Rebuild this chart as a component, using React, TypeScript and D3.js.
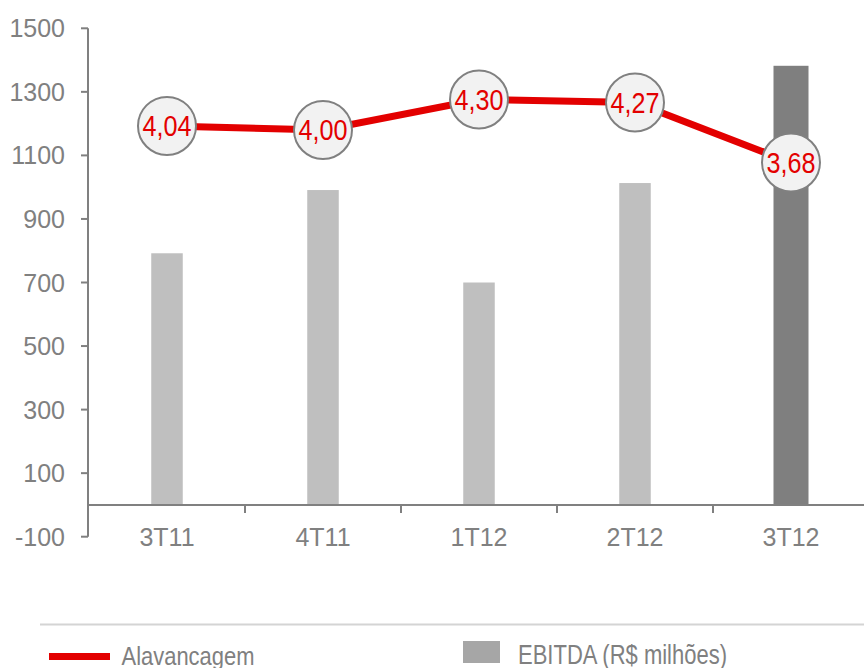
import React from "react";
import * as d3 from "d3";

const categories = ["3T11", "4T11", "1T12", "2T12", "3T12"];
const ebitda = [792, 991, 700, 1013, 1382];
const leverage = [4.04, 4.0, 4.3, 4.27, 3.68];
const leverageLabels = ["4,04", "4,00", "4,30", "4,27", "3,68"];
const yTicks = [-100, 100, 300, 500, 700, 900, 1100, 1300, 1500];

const W = 864;
const H = 668;
const FONT = "'Liberation Sans', Arial, sans-serif";
const GRAY = "#808080";
const RED = "#e30000";

export default function App() {
  const x0 = 89;
  const step = 156;
  const x = d3
    .scaleBand<string>()
    .domain(categories)
    .range([x0, x0 + step * categories.length])
    .padding(0);
  const y = d3.scaleLinear().domain([-100, 1500]).range([536.7, 28.3]);
  // hidden secondary axis for leverage
  const y2 = d3.scaleLinear().domain([0, 5]).range([536.7, 28.3]);

  const cx = (c: string) => (x(c) as number) + x.bandwidth() / 2;
  const line = d3
    .line<number>()
    .x((_, i) => cx(categories[i]))
    .y((d) => y2(d));

  const zeroY = y(0);
  const axisX = 88;

  return (
    <svg
      width={W}
      height={H}
      style={{ position: "absolute", left: 0, top: 0, background: "#fff" }}
      fontFamily={FONT}
    >
      {/* bars */}
      {categories.map((c, i) => {
        const last = i === categories.length - 1;
        const bw = last ? 35 : 31.5;
        return (
          <rect
            key={c}
            x={cx(c) - bw / 2}
            y={y(ebitda[i])}
            width={bw}
            height={zeroY - y(ebitda[i])}
            fill={last ? "#7f7f7f" : "#bfbfbf"}
          />
        );
      })}

      {/* y axis */}
      <line x1={axisX} x2={axisX} y1={y(1500)} y2={y(-100)} stroke={GRAY} strokeWidth={2} />
      {yTicks.map((t) => (
        <g key={t}>
          <line x1={axisX - 7} x2={axisX} y1={y(t)} y2={y(t)} stroke={GRAY} strokeWidth={2} />
          <text
            x={65}
            y={y(t)}
            dy="0.36em"
            textAnchor="end"
            fontSize={25}
            fill={GRAY}
          >
            {t}
          </text>
        </g>
      ))}

      {/* x axis */}
      <line x1={axisX} x2={W} y1={zeroY} y2={zeroY} stroke={GRAY} strokeWidth={2} />
      {categories.map((c, i) =>
        i === 0 ? null : (
          <line
            key={"t" + c}
            x1={x(c) as number}
            x2={x(c) as number}
            y1={zeroY}
            y2={zeroY + 8}
            stroke={GRAY}
            strokeWidth={2}
          />
        )
      )}
      {categories.map((c) => (
        <text
          key={"l" + c}
          x={cx(c)}
          y={546}
          textAnchor="middle"
          fontSize={25}
          fill={GRAY}
        >
          {c}
        </text>
      ))}

      {/* leverage line */}
      <path d={line(leverage) || ""} fill="none" stroke={RED} strokeWidth={7} />
      {leverage.map((v, i) => (
        <g key={"m" + i}>
          <circle
            cx={cx(categories[i])}
            cy={y2(v)}
            r={29}
            fill="#f2f2f2"
            stroke={GRAY}
            strokeWidth={2}
          />
          <text
            x={cx(categories[i])}
            y={y2(v) + 10.5}
            textAnchor="middle"
            fontSize={29}
            fill={RED}
            textLength={49}
            lengthAdjust="spacingAndGlyphs"
          >
            {leverageLabels[i]}
          </text>
        </g>
      ))}

      {/* legend */}
      <line x1={40} x2={W} y1={624.5} y2={624.5} stroke="#d4d4d4" strokeWidth={2} />
      <line x1={49} x2={110} y1={656.5} y2={656.5} stroke={RED} strokeWidth={7} />
      <text
        x={121.5}
        y={665}
        fontSize={26}
        fill={GRAY}
        textLength={133}
        lengthAdjust="spacingAndGlyphs"
      >
        Alavancagem
      </text>
      <rect x={463} y={641} width={37} height={22} fill="#a6a6a6" />
      <text
        x={518}
        y={663.5}
        fontSize={27}
        fill={GRAY}
        textLength={209}
        lengthAdjust="spacingAndGlyphs"
      >
        EBITDA (R$ milhões)
      </text>
    </svg>
  );
}
